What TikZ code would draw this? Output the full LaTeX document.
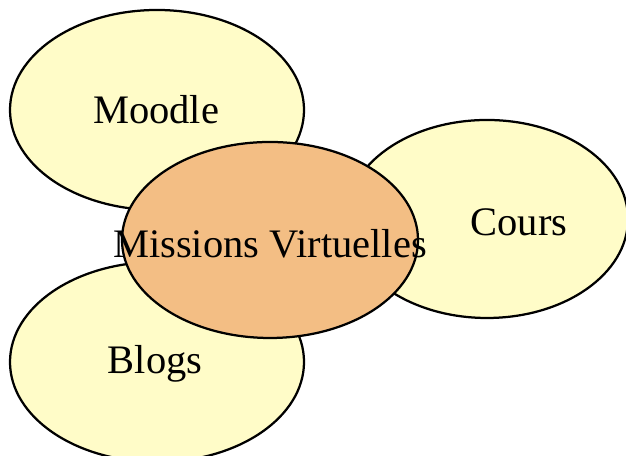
\documentclass[tikz,border=0pt]{standalone}
\usepackage{fontspec}
\setmainfont{Liberation Serif}
\definecolor{jaune}{RGB}{255,252,200}
\definecolor{orange}{RGB}{243,190,132}
\tikzset{
  bulle/.style={draw=black,line width=0.8pt,fill=jaune},
  centre/.style={draw=black,line width=0.8pt,fill=orange},
  etiquette/.style={font=\fontsize{14.4}{17}\selectfont,inner sep=0pt}
}
\begin{document}
\begin{tikzpicture}[scale=.5]
    \useasboundingbox (0,0) rectangle (15.65,11.4);

%% bulles autour
    \filldraw[bulle] (3.925,8.65) ellipse (3.675 and 2.5);
    \filldraw[bulle] (12.175,5.925) ellipse (3.525 and 2.475);
    \filldraw[bulle] (3.925,2.35) ellipse (3.675 and 2.5);

%% bulle du milieu
    \filldraw[centre] (6.75,5.4) ellipse (3.7 and 2.45);

    \node[etiquette] (moodle) at (3.9,8.65) {Moodle};
    \node[etiquette] (cours) at (12.975,5.85) {Cours};
    \node[etiquette] (blogs) at (3.875,2.3) {Blogs};
    \node[etiquette] (missions) at (6.75,5.3) {Missions Virtuelles};

\end{tikzpicture}
\end{document}
